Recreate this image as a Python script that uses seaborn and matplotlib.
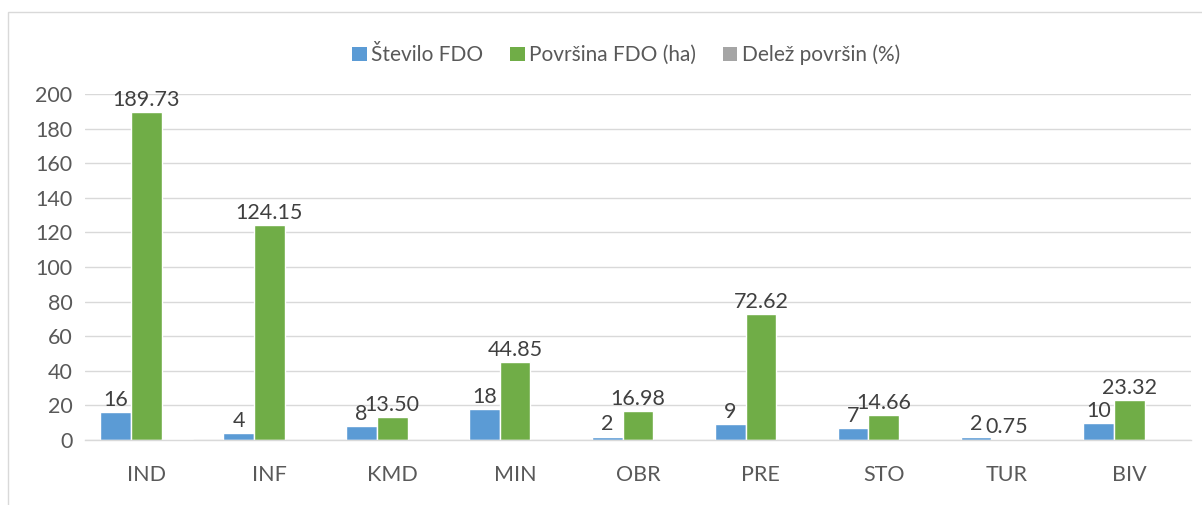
import matplotlib
matplotlib.use("Agg")
import matplotlib.pyplot as plt
from matplotlib.patches import Rectangle, Patch
import seaborn as sns
import pandas as pd

categories = ["IND", "INF", "KMD", "MIN", "OBR", "PRE", "STO", "TUR", "BIV"]
stevilo = [16, 4, 8, 18, 2, 9, 7, 2, 10]
povrsina = [189.73, 124.15, 13.50, 44.85, 16.98, 72.62, 14.66, 0.75, 23.32]
delez = [0.379, 0.248, 0.027, 0.090, 0.034, 0.145, 0.029, 0.0015, 0.047]
series_names = ["Število FDO", "Površina FDO (ha)", "Delež površin (%)"]
colors = ["#5B9BD5", "#70AD47", "#A5A5A5"]

rows = []
for name, vals in zip(series_names, [stevilo, povrsina, delez]):
    for c, v in zip(categories, vals):
        rows.append({"cat": c, "series": name, "value": v})
df = pd.DataFrame(rows)

sns.set_theme(style="white")
plt.rcParams["font.family"] = ["Lato", "DejaVu Sans"]
txt = "#595959"

fig = plt.figure(figsize=(12.02, 5.05), dpi=100)
ax = fig.add_axes([85 / 1202, 65 / 505, (1191 - 85) / 1202, (440 - 94) / 505])

sns.barplot(data=df, x="cat", y="value", hue="series", palette=colors,
            order=categories, hue_order=series_names, width=0.75,
            saturation=1, ax=ax, legend=False, errorbar=None)

for cont, fmt in zip(ax.containers[:2], ["%d", "%.2f"]):
    ax.bar_label(cont, fmt=fmt, padding=1.5, fontsize=15.5, color="#404040")

ax.set_ylim(0, 200)
ax.set_yticks(range(0, 201, 20))
ax.set_xlim(-0.5, len(categories) - 0.5)
ax.yaxis.grid(True, color="#D9D9D9", linewidth=1)
ax.set_axisbelow(True)
for s in ["top", "right", "left"]:
    ax.spines[s].set_visible(False)
ax.spines["bottom"].set_color("#D9D9D9")
ax.spines["bottom"].set_linewidth(1)
ax.tick_params(axis="y", length=0, pad=9, labelsize=15.5, labelcolor=txt)
ax.tick_params(axis="x", length=0, pad=18, labelsize=15.5, labelcolor=txt)
ax.set_xlabel("")
ax.set_ylabel("")

handles = [Patch(facecolor=c, edgecolor="none") for c in colors]
fig.legend(handles, series_names, loc="center", bbox_to_anchor=(626 / 1202, 1 - 55 / 505),
           ncol=3, frameon=False, fontsize=15, handlelength=0.7, handleheight=0.7,
           handletextpad=0.2, columnspacing=1.3, labelcolor=txt)

# chart border (Excel chart area)
fig.patches.append(Rectangle((8 / 1202, -0.1), 1.2, 1 - 12 / 505 + 0.1,
                             transform=fig.transFigure, fill=False,
                             edgecolor="#D9D9D9", linewidth=1))

fig.savefig("out.png", dpi=100)
